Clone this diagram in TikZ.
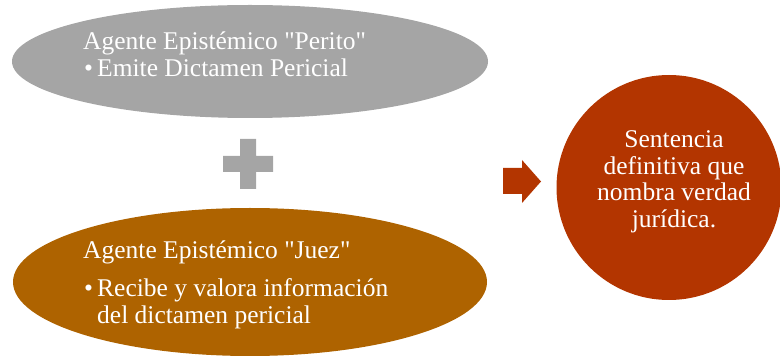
\documentclass[tikz,border=0pt]{standalone}
\usepackage{fontspec}
\setmainfont{Liberation Serif}[Ligatures=TeXOff]
\usetikzlibrary{shapes.geometric, calc}
\definecolor{gris}{HTML}{A5A5A5}
\definecolor{ocre}{HTML}{AE6300}
\definecolor{rojizo}{HTML}{B33500}
\tikzset{
	burbuja/.style={ellipse, inner sep=0pt, draw=none},
	texto/.style={anchor=base west, inner sep=0pt, text=white,
		font=\fontsize{25.5}{26.5}\selectfont}
}

\begin{document}
\begin{tikzpicture}[x=1pt,y=-1pt]
		\useasboundingbox (0,0) rectangle (780,358);
		%
		% las dos elipses
		\node[burbuja, fill=gris, minimum width=476pt, minimum height=113pt] (perito) at (250,61.5) {};
		\node[burbuja, fill=ocre, minimum width=474pt, minimum height=148pt] (juez) at (250,282) {};
		\node[circle, fill=rojizo, inner sep=0pt, minimum size=225pt] (sentencia) at (669,187.5) {};
		%
		% textos
		\node[texto] (peritotit) at (83,50) {Agente Epistémico "Perito"};
		\node[texto] (peritobul) at (84,77) {•};
		\node[texto] (peritoitem) at (97,77) {Emite Dictamen Pericial};
		\node[texto] (jueztit) at (83,259) {Agente Epistémico "Juez"};
		\node[texto] (juezbul) at (84,297) {•};
		\node[texto] (juezitem) at (97,297)
			{\begin{tabular}[t]{@{}l@{}}Recibe y valora información\\del dictamen pericial\end{tabular}};
		\node[texto, anchor=base] (sentenciatxt) at ($(sentencia.center)+(5,-39.5)$)
			{\begin{tabular}[t]{@{}c@{}}Sentencia\\definitiva que\\nombra verdad\\jurídica.\end{tabular}};
		%
		% signo mas
		\fill[gris] (240,139) -- (256,139) -- (256,156) -- (273,156) -- (273,172) -- (256,172)
			-- (256,189) -- (240,189) -- (240,172) -- (223,172) -- (223,156) -- (240,156) -- cycle;
		%
		% flecha
		\fill[rojizo] (503,168) -- (522,168) -- (522,160) -- (541,181.5) -- (522,203)
			-- (522,194) -- (503,194) -- cycle;
\end{tikzpicture}
\end{document}
